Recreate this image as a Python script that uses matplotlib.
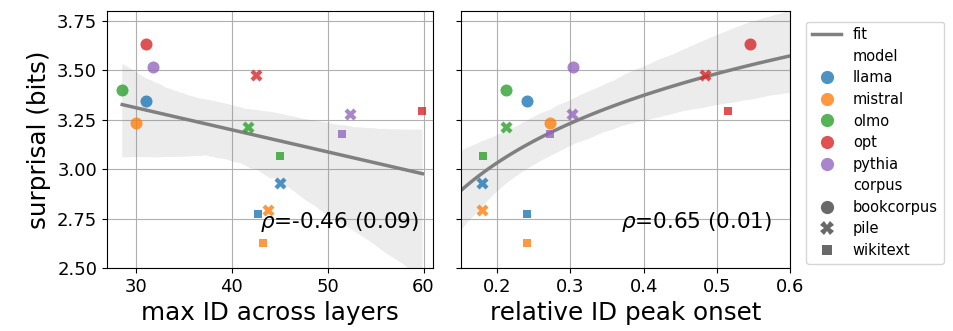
import numpy as np
import matplotlib.pyplot as plt
import seaborn as sns
from matplotlib.lines import Line2D

models = ["llama", "mistral", "olmo", "opt", "pythia"]
corpora = ["bookcorpus", "pile", "wikitext"]

# rows: model, columns: corpus (bookcorpus, pile, wikitext)
surprisal = {
    "llama":   [3.345, 2.931, 2.776],
    "mistral": [3.234, 2.793, 2.628],
    "olmo":    [3.399, 3.214, 3.066],
    "opt":     [3.635, 3.476, 3.293],
    "pythia":  [3.517, 3.278, 3.177],
}
max_id = {
    "llama":   [31.07, 45.08, 42.72],
    "mistral": [30.03, 43.76, 43.30],
    "olmo":    [28.60, 41.74, 45.00],
    "opt":     [31.04, 42.54, 59.88],
    "pythia":  [31.77, 52.35, 51.48],
}
peak_onset = {
    "llama":   [0.241, 0.179, 0.241],
    "mistral": [0.272, 0.179, 0.241],
    "olmo":    [0.2115, 0.2115, 0.180],
    "opt":     [0.545, 0.484, 0.515],
    "pythia":  [0.303, 0.302, 0.272],
}
rho_left = r"$\rho$=-0.46 (0.09)"
rho_right = r"$\rho$=0.65 (0.01)"

colors = dict(zip(models, plt.cm.tab10.colors[:5]))
markers = dict(zip(corpora, ["o", "X", (4, 0, 45)]))

y_all = np.array([v for m in models for v in surprisal[m]])
x1_all = np.array([v for m in models for v in max_id[m]])
x2_all = np.array([v for m in models for v in peak_onset[m]])

fig = plt.figure(figsize=(9.54, 3.31), dpi=100)
ax1 = fig.add_axes([0.112, 0.19, 0.342, 0.777])
ax2 = fig.add_axes([0.483, 0.19, 0.345, 0.777], sharey=ax1)

ax2.set_xlim(0.15, 0.6)
ax1.set_xlim(27, 61)

sns.regplot(x=x1_all, y=y_all, ax=ax1, scatter=False, seed=1,
            line_kws=dict(color="grey", lw=2.5))
sns.regplot(x=x2_all, y=y_all, ax=ax2, scatter=False, logx=True, seed=1,
            truncate=False, line_kws=dict(color="grey", lw=2.5))

for ax, xs in [(ax1, max_id), (ax2, peak_onset)]:
    for m in models:
        for j, c in enumerate(corpora):
            ax.scatter(xs[m][j], surprisal[m][j], color=colors[m], alpha=0.8,
                       marker=markers[c], s=75, linewidths=0, zorder=3)
    ax.grid(True, color="#b0b0b0", lw=0.8)
    ax.set_axisbelow(True)
    ax.tick_params(labelsize=13)

ax1.set_ylim(2.5, 3.8)
ax1.set_yticks([2.5, 2.75, 3.0, 3.25, 3.5, 3.75])
ax1.set_xticks([30, 40, 50, 60])
ax2.set_xticks([0.2, 0.3, 0.4, 0.5, 0.6])
ax2.tick_params(labelleft=False)
ax1.set_ylabel("surprisal (bits)", fontsize=17.7)
ax1.set_xlabel("max ID across layers", fontsize=17.7)
ax2.set_xlabel("relative ID peak onset", fontsize=17.7)

ax1.text(0.955, 0.18, rho_left, transform=ax1.transAxes, ha="right", va="center", fontsize=15.5)
ax2.text(0.945, 0.18, rho_right, transform=ax2.transAxes, ha="right", va="center", fontsize=15.5)

handles = [Line2D([], [], color="grey", lw=2.5)]
labels = ["fit"]
handles.append(Line2D([], [], linestyle="none"))
labels.append("model")
for m in models:
    handles.append(Line2D([], [], linestyle="none", marker="o", markersize=9.5,
                          markerfacecolor=colors[m], markeredgewidth=0, alpha=0.8))
    labels.append(m)
handles.append(Line2D([], [], linestyle="none"))
labels.append("corpus")
for c in corpora:
    handles.append(Line2D([], [], linestyle="none", marker=markers[c], markersize=9.5,
                          markerfacecolor="#444444", markeredgewidth=0, alpha=0.8))
    labels.append(c)
fig.legend(handles, labels, loc="upper left", bbox_to_anchor=(0.845, 0.935),
           fontsize=10.5, handlelength=2.0, borderaxespad=0, labelspacing=0.45)

fig.savefig("out.png", dpi=100)
